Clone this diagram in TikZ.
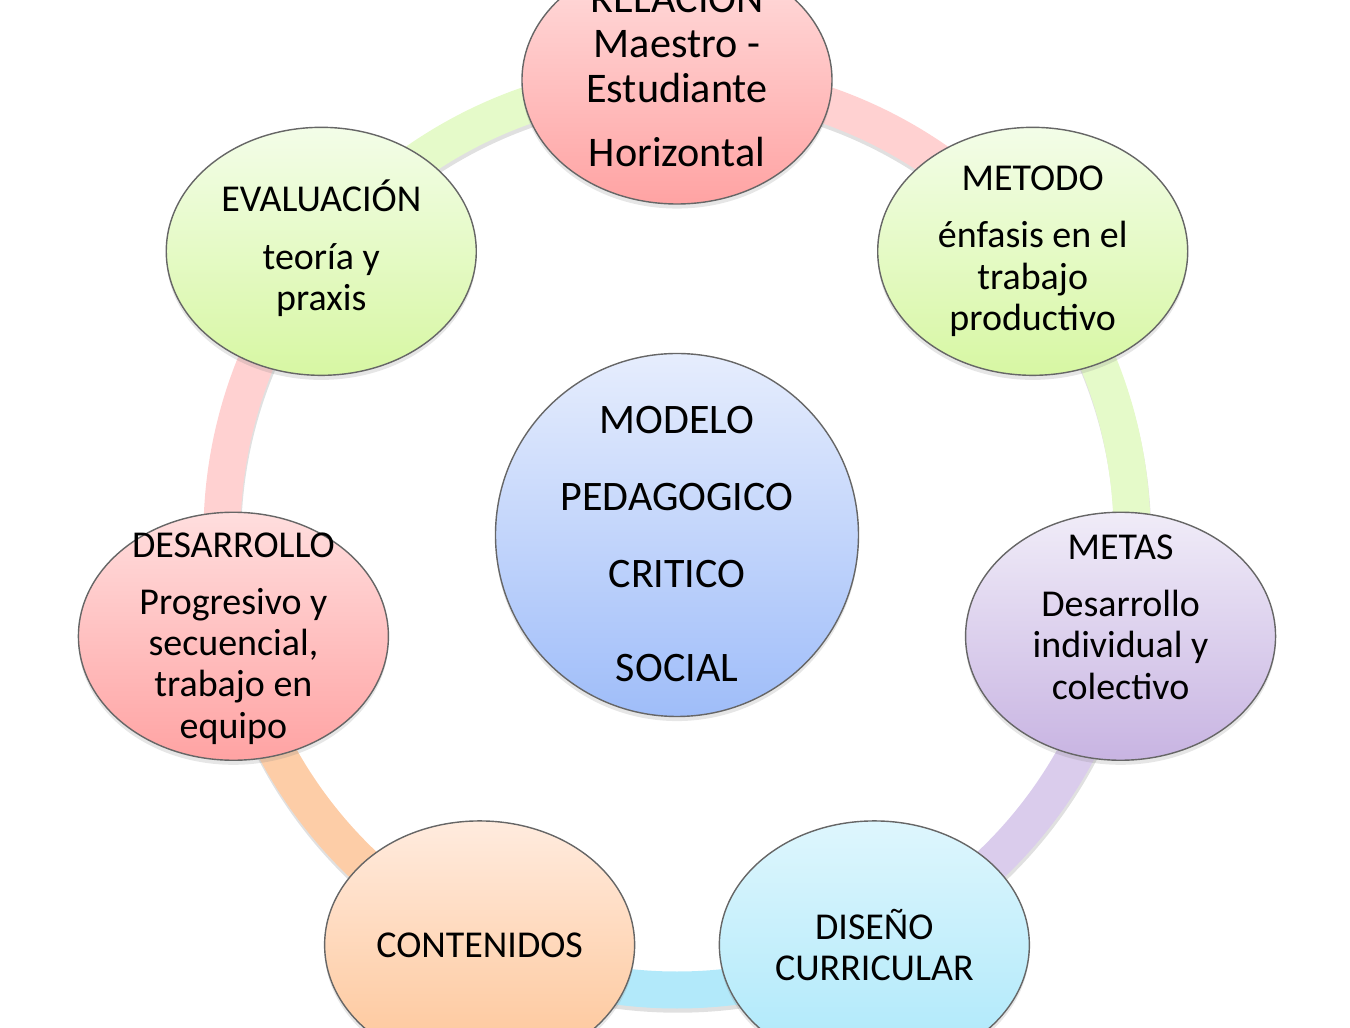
\documentclass[tikz,border=0pt]{standalone}
\usepackage{fontspec}
\setmainfont{Carlito}
\usetikzlibrary{shapes.geometric, shadows, backgrounds}

\definecolor{redA}{HTML}{FFDEDE}
\definecolor{redB}{HTML}{FFA3A3}
\definecolor{greenA}{HTML}{F3FDE8}
\definecolor{greenB}{HTML}{D7F7A3}
\definecolor{lilacA}{HTML}{F0ECF8}
\definecolor{lilacB}{HTML}{C8B4E2}
\definecolor{skyA}{HTML}{DEF6FD}
\definecolor{skyB}{HTML}{ACE8FA}
\definecolor{peachA}{HTML}{FFEBDE}
\definecolor{peachB}{HTML}{FEC597}
\definecolor{blueA}{HTML}{E6EDFD}
\definecolor{blueB}{HTML}{9FBDF9}

\tikzset{
	part/.style={ellipse, draw=black!60, line width=0.4pt, minimum width=3.1cm, minimum height=2.48cm, inner sep=0pt,
		drop shadow={shadow xshift=0pt, shadow yshift=-1.3pt, opacity=0.2}},
	hub/.style={circle, draw=black!60, line width=0.4pt, minimum size=3.63cm, inner sep=0pt, top color=blueA, bottom color=blueB,
		drop shadow={shadow xshift=0pt, shadow yshift=-1.3pt, opacity=0.2}},
	txt/.style={align=center, inner sep=0pt, font=\fontsize{10.8}{11.75}\selectfont},
	ring/.style={line width=0.37cm, bend left=25.71, looseness=0.9},
	ringshadow/.style={ring, draw=black, opacity=0.12, transform canvas={shift={(0.2pt,-1.2pt)}}},
}

\begin{document}
\begin{tikzpicture}
		
		\useasboundingbox (-6.77,-4.93) rectangle (6.73,5.35);
		
		\node[hub] (0) at (0,0) {};
		\node[part, top color=redA, bottom color=redB] (1) at (90:4.55) {};
		\node[part, top color=greenA, bottom color=greenB] (2) at (38.57:4.55) {};
		\node[part, top color=lilacA, bottom color=lilacB] (3) at (-12.86:4.55) {};
		\node[part, top color=skyA, bottom color=skyB] (4) at (-64.29:4.55) {};
		\node[part, top color=peachA, bottom color=peachB] (5) at (-115.71:4.55) {};
		\node[part, top color=redA, bottom color=redB] (6) at (-167.14:4.55) {};
		\node[part, top color=greenA, bottom color=greenB] (7) at (141.43:4.55) {};
		
		\node[txt, font=\fontsize{11.95}{14.3}\selectfont] (t0) at ([yshift=-0.09cm]0) {MODELO\\[7.6pt]PEDAGOGICO\\[7.6pt]CRITICO\\[12.4pt]SOCIAL};
		\node[txt, font=\fontsize{12}{12.8}\selectfont] (t1) at ([yshift=0.08cm]1) {RELACIÓN\\Maestro -\\Estudiante\\[5.4pt]Horizontal};
		\node[txt] (t2) at (2) {METODO\\[4.5pt]énfasis en el\\trabajo\\productivo};
		\node[txt] (t3) at ([yshift=0.19cm]3) {METAS\\[4.5pt]Desarrollo\\individual y\\colectivo};
		\node[txt] (t4) at (4) {DISEÑO\\CURRICULAR};
		\node[txt] (t5) at (5) {CONTENIDOS};
		\node[txt] (t6) at ([yshift=-0.02cm]6) {DESARROLLO\\[4.5pt]Progresivo y\\secuencial,\\trabajo en\\equipo};
		\node[txt] (t7) at ([yshift=0.03cm]7) {EVALUACIÓN\\[4.5pt]teoría y\\praxis};
		
		\begin{pgfonlayer}{background}
		\draw[ringshadow] (1.center) to (2.center) to (3.center) to (4.center) to (5.center) to (6.center) to (7.center) to (1.center);
		\draw[ring, draw={rgb,255:red,255;green,209;blue,209}] (1.center) to (2.center);
		\draw[ring, draw={rgb,255:red,229;green,250;blue,201}] (2.center) to (3.center);
		\draw[ring, draw={rgb,255:red,218;green,204;blue,236}] (3.center) to (4.center);
		\draw[ring, draw={rgb,255:red,178;green,233;blue,250}] (4.center) to (5.center);
		\draw[ring, draw={rgb,255:red,253;green,205;blue,167}] (5.center) to (6.center);
		\draw[ring, draw={rgb,255:red,255;green,209;blue,209}] (6.center) to (7.center);
		\draw[ring, draw={rgb,255:red,229;green,250;blue,201}] (7.center) to (1.center);
		\end{pgfonlayer}
		
		\end{tikzpicture}
\end{document}
